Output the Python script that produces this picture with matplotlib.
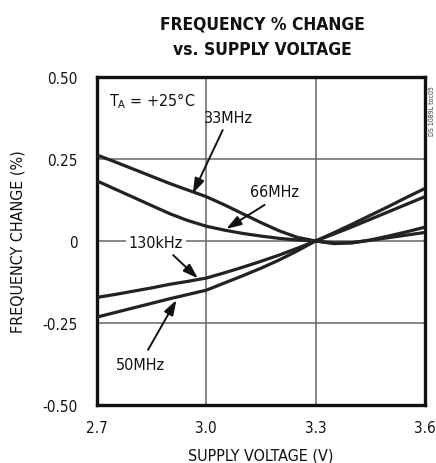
import matplotlib
matplotlib.use("Agg")
import matplotlib.pyplot as plt

plt.rcParams['font.family'] = ['DejaVu Sans']
plt.rcParams['font.stretch'] = 'condensed'
plt.rcParams['mathtext.fontset'] = 'custom'
plt.rcParams['mathtext.rm'] = 'DejaVu Sans:stretch=condensed'

voltage = [2.70, 2.75, 2.80, 2.85, 2.90, 2.95, 3.00, 3.05, 3.10, 3.15,
           3.20, 3.25, 3.30, 3.35, 3.40, 3.45, 3.50, 3.55, 3.60]
f_33mhz = [0.262, 0.241, 0.219, 0.197, 0.175, 0.155, 0.135, 0.110, 0.083, 0.056,
           0.031, 0.011, 0.0, -0.008, -0.006, 0.003, 0.015, 0.028, 0.042]
f_66mhz = [0.183, 0.158, 0.133, 0.108, 0.083, 0.062, 0.045, 0.033, 0.023, 0.015,
           0.008, 0.003, 0.0, -0.006, -0.005, 0.002, 0.010, 0.018, 0.026]
f_130khz = [-0.172, -0.163, -0.153, -0.143, -0.132, -0.123, -0.113, -0.097, -0.080, -0.062,
            -0.043, -0.022, 0.0, 0.021, 0.043, 0.066, 0.089, 0.112, 0.135]
f_50mhz = [-0.232, -0.218, -0.204, -0.190, -0.176, -0.163, -0.150, -0.128, -0.106, -0.083,
           -0.058, -0.030, 0.0, 0.025, 0.051, 0.078, 0.105, 0.133, 0.160]

x_ticks = [2.7, 3.0, 3.3, 3.6]
x_tick_labels = ["2.7", "3.0", "3.3", "3.6"]
y_ticks = [-0.50, -0.25, 0, 0.25, 0.50]
y_tick_labels = ["-0.50", "-0.25", "0", "0.25", "0.50"]

fig = plt.figure(figsize=(4.36, 4.64), dpi=100)
ax = fig.add_axes([0.2225, 0.125, 0.752, 0.707])

curve_color = "#222222"
for series in (f_33mhz, f_66mhz, f_130khz, f_50mhz):
    ax.plot(voltage, series, color=curve_color, lw=2.3, solid_capstyle='butt', zorder=3)

ax.set_xlim(2.7, 3.6)
ax.set_ylim(-0.5, 0.5)
ax.set_xticks(x_ticks)
ax.set_xticklabels(x_tick_labels)
ax.set_yticks(y_ticks)
ax.set_yticklabels(y_tick_labels)
ax.tick_params(length=0, labelsize=11, colors="#111111")
ax.tick_params(axis='y', pad=14)
ax.tick_params(axis='x', pad=11)
ax.grid(True, color="#666666", lw=1.1)
ax.set_axisbelow(True)
for s in ax.spines.values():
    s.set_linewidth(2.4)
    s.set_color("#111111")

ax.set_xlabel("SUPPLY VOLTAGE (V)", fontsize=11.5, labelpad=9, color="#111111")
ax.set_ylabel("FREQUENCY CHANGE (%)", fontsize=11.5, labelpad=12, color="#111111")

fig.text(0.601, 0.948, "FREQUENCY % CHANGE", ha='center', va='center',
         fontsize=12.5, fontweight='bold', color="#111111")
fig.text(0.601, 0.892, "vs. SUPPLY VOLTAGE", ha='center', va='center',
         fontsize=12.5, fontweight='bold', color="#111111")

ax.text(2.733, 0.43, r"T$_\mathrm{A}$ = +25°C", fontsize=11.5, ha='left', va='center', color="#111111")

arrow = dict(arrowstyle='-|>,head_length=0.9,head_width=0.3', color="#111111", lw=1.4,
             shrinkA=0, shrinkB=0)
ax.annotate("", xy=(2.963, 0.145), xytext=(3.045, 0.338), arrowprops=arrow, zorder=4)
ax.text(3.06, 0.375, "33MHz", fontsize=11.5, ha='center', va='center', color="#111111")

ax.annotate("", xy=(3.055, 0.037), xytext=(3.160, 0.110), arrowprops=arrow, zorder=4)
ax.text(3.188, 0.152, "66MHz", fontsize=11.5, ha='center', va='center', color="#111111")

ax.text(2.861, -0.006, "130kHz", fontsize=11.5, ha='center', va='center', color="#111111",
        bbox=dict(facecolor='white', edgecolor='none', pad=2), zorder=5)
ax.annotate("", xy=(2.977, -0.114), xytext=(2.909, -0.043), arrowprops=arrow, zorder=4)

ax.annotate("", xy=(2.918, -0.180), xytext=(2.840, -0.332), arrowprops=arrow, zorder=4)
ax.text(2.82, -0.378, "50MHz", fontsize=11.5, ha='center', va='center', color="#111111")

fig.text(0.991, 0.76, "DS 1089L toc05", rotation=90, fontsize=5, ha='center', va='center',
         color="#333333")

fig.savefig("out.png", dpi=100)
